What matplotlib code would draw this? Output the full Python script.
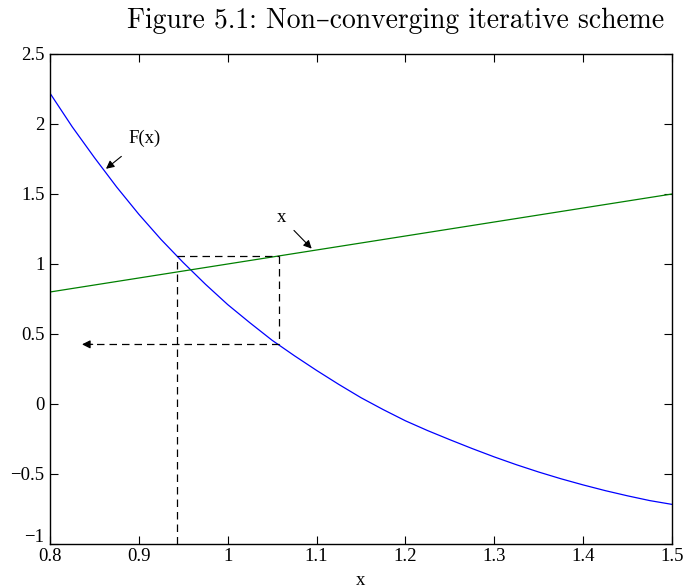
"""
Non-converging fixed point iteration: F(x) against the line y = x.
"""

import numpy as np
import matplotlib

matplotlib.use('Agg')
import matplotlib.pyplot as plt
import matplotlib.transforms as mtransforms

# curve values
x_vals = [0.800, 0.825, 0.850, 0.875, 0.900, 0.925, 0.950, 0.975,
          1.000, 1.025, 1.050, 1.075, 1.100, 1.125, 1.150, 1.175,
          1.200, 1.225, 1.250, 1.275, 1.300, 1.325, 1.350, 1.375,
          1.400, 1.425, 1.450, 1.475, 1.500]
f_vals = [2.22, 1.98, 1.76, 1.55, 1.355, 1.175, 1.01, 0.855,
          0.71, 0.58, 0.455, 0.345, 0.24, 0.14, 0.045, -0.04,
          -0.12, -0.19, -0.255, -0.318, -0.378, -0.434, -0.486, -0.534,
          -0.578, -0.619, -0.656, -0.69, -0.717]
line_x = [0.8, 1.5]

# iterates of the scheme
iter_x = [0.9425, 1.0577]
iter_f = [1.06, 0.426]
arrow_end = 0.836

x_ticks = [0.8, 0.9, 1.0, 1.1, 1.2, 1.3, 1.4, 1.5]
x_ticklabels = ['0.8', '0.9', '1', '1.1', '1.2', '1.3', '1.4', '1.5']
y_ticks = [-1, -0.5, 0, 0.5, 1, 1.5, 2, 2.5]
y_ticklabels = ['\u22121', '\u22120.5', '0', '0.5', '1', '1.5', '2', '2.5']

SERIF = ['Liberation Serif', 'DejaVu Serif']

fig = plt.figure(figsize=(6.87, 5.88), dpi=100)
ax = fig.add_axes([50 / 687, 1 - 544 / 588, 622 / 687, 490 / 588])

ax.plot(x_vals, f_vals, color='#0000ff', linewidth=0.9)
ax.plot(line_x, line_x, color='#008000', linewidth=0.9)

# dashed path of the iteration
dash = dict(color='black', linewidth=0.9, linestyle=(0, (6, 4)))
ax.plot([iter_x[0], iter_x[0]], [-1, iter_f[0]], **dash)
ax.plot([iter_x[0], iter_x[1]], [iter_f[0], iter_f[0]], **dash)
ax.plot([iter_x[1], iter_x[1]], [iter_f[0], iter_f[1]], **dash)
ax.plot([iter_x[1], arrow_end + 0.01], [iter_f[1], iter_f[1]], **dash)
ax.annotate('', xy=(arrow_end, iter_f[1]), xytext=(arrow_end + 0.012, iter_f[1]),
            arrowprops=dict(arrowstyle='-|>', color='black', lw=0.9,
                            mutation_scale=12, shrinkA=0, shrinkB=0))

# curve labels
ax.annotate('F(x)', xy=(0.863, 1.68), xytext=(0.906, 1.90),
            ha='center', va='center', fontsize=13.5, family=SERIF,
            arrowprops=dict(arrowstyle='-|>', color='black', lw=0.8,
                            mutation_scale=12, shrinkA=8, shrinkB=0))
ax.annotate('x', xy=(1.0945, 1.11), xytext=(1.0607, 1.33),
            ha='center', va='center', fontsize=13.5, family=SERIF,
            arrowprops=dict(arrowstyle='-|>', color='black', lw=0.8,
                            mutation_scale=12, shrinkA=5, shrinkB=0))

ax.set_xlim(0.8, 1.5)
ax.set_ylim(-1, 2.5)
ax.set_xticks(x_ticks)
ax.set_xticklabels(x_ticklabels, family=SERIF, fontsize=13.5)
ax.set_yticks(y_ticks)
ax.set_yticklabels(y_ticklabels, family=SERIF, fontsize=13.5)
ax.tick_params(direction='in', length=6, width=0.8, top=True, right=True)
ax.tick_params(axis='x', pad=3)
ax.tick_params(axis='y', pad=4)
for spine in ax.spines.values():
  spine.set_linewidth(1.0)

# MATLAB nudges the lowest y label up and clear of the first x label
lbl = ax.get_yticklabels()[0]
lbl.set_transform(lbl.get_transform() +
                  mtransforms.ScaledTranslation(0, 6 / 72, fig.dpi_scale_trans))

ax.set_xlabel('x', family=SERIF, fontsize=13.5, labelpad=5)

fig.text(396 / 687, 1 - 21 / 588, 'Figure 5.1: Non\u2013converging iterative scheme',
         ha='center', va='center', fontsize=19.9, family=['cmr10', 'DejaVu Serif'])

plt.savefig('out.png', dpi=100)
